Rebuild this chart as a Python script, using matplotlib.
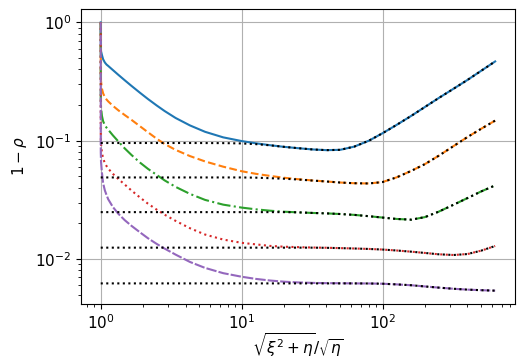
import matplotlib
matplotlib.use("Agg")
import matplotlib.pyplot as plt

plt.rcParams["font.size"] = 11

# shared x grid for the five coloured curves
x = [1.0, 1.0002, 1.001, 1.005, 1.02, 1.04, 1.07, 1.1, 1.13, 1.22, 1.33, 1.48, 1.65, 1.9,
     2.16, 2.5, 2.84, 3.4, 4.3, 5.5, 7.4, 10, 12.6, 15.9, 20, 25, 32, 40, 50, 63, 80, 100,
     126, 160, 200, 250, 320, 400, 500, 630]

blue = [1.0, 0.7, 0.63, 0.57, 0.53, 0.488, 0.458, 0.44, 0.4285, 0.3954, 0.3614, 0.3243,
        0.2911, 0.2541, 0.2254, 0.1982, 0.1782, 0.1556, 0.1346, 0.1189, 0.1067, 0.0993,
        0.0951, 0.0916, 0.0887, 0.0865, 0.0843, 0.0832, 0.0837, 0.0891, 0.1, 0.1156,
        0.1361, 0.1622, 0.1928, 0.2291, 0.2754, 0.3258, 0.389, 0.4677]
orange = [1.0, 0.4467, 0.3631, 0.3162, 0.2754, 0.2512, 0.2333, 0.2228, 0.2148, 0.1972,
          0.1811, 0.1648, 0.1503, 0.1324, 0.118, 0.1038, 0.0938, 0.0836, 0.0741, 0.0668,
          0.0603, 0.0552, 0.0525, 0.0504, 0.0486, 0.0473, 0.0461, 0.0452, 0.0443, 0.0437,
          0.0435, 0.0447, 0.049, 0.0556, 0.0634, 0.0745, 0.0902, 0.1072, 0.1259, 0.1479]
green = [1.0, 0.2512, 0.2188, 0.1905, 0.1622, 0.1462, 0.1349, 0.1288, 0.1239, 0.1109,
         0.0989, 0.0861, 0.0759, 0.0653, 0.0579, 0.0513, 0.0462, 0.0407, 0.0355, 0.0316,
         0.0288, 0.0272, 0.0263, 0.0256, 0.0251, 0.0248, 0.0245, 0.0243, 0.024, 0.0236,
         0.023, 0.0224, 0.0218, 0.0215, 0.0226, 0.0251, 0.0288, 0.0327, 0.0372, 0.0419]
red = [1.0, 0.1259, 0.1072, 0.0933, 0.0794, 0.0708, 0.0646, 0.061, 0.0581, 0.0525,
       0.0476, 0.0426, 0.038, 0.0331, 0.0294, 0.0261, 0.0237, 0.021, 0.0182, 0.0161,
       0.0146, 0.0137, 0.0133, 0.0129, 0.0127, 0.0126, 0.0125, 0.01245, 0.01236, 0.01227,
       0.01216, 0.01202, 0.0118, 0.01153, 0.01125, 0.01096, 0.01081, 0.01101, 0.01175, 0.01288]
purple = [1.0, 0.1, 0.0794, 0.0661, 0.0537, 0.0437, 0.038, 0.0347, 0.032, 0.0275,
          0.0242, 0.0213, 0.0191, 0.0168, 0.015, 0.0134, 0.01225, 0.01089, 0.00944, 0.00841,
          0.00759, 0.00708, 0.00679, 0.00658, 0.00643, 0.00634, 0.00628, 0.00625, 0.00624,
          0.00622, 0.00621, 0.00618, 0.0061, 0.006, 0.00586, 0.00573, 0.0056, 0.00551,
          0.00545, 0.0054]

# black dotted approximations
xa = [1, 2, 4.3, 7.4, 10, 12.6, 15.9, 20, 25, 32, 40, 50, 63, 80, 100, 126, 160, 200,
      250, 320, 400, 500, 630]
blue_a = [0.0956, 0.0956, 0.0956, 0.0954, 0.0948, 0.0935, 0.0914, 0.0887, 0.0865, 0.0843,
          0.0832, 0.0837, 0.0891, 0.1, 0.1156, 0.1361, 0.1622, 0.1928, 0.2291, 0.2754,
          0.3258, 0.389, 0.4677]
orange_a = [0.0489, 0.0489, 0.0489, 0.0489, 0.0489, 0.0487, 0.0482, 0.0477, 0.047, 0.046,
            0.0452, 0.0443, 0.0437, 0.0435, 0.0447, 0.049, 0.0556, 0.0634, 0.0745, 0.0902,
            0.1072, 0.1259, 0.1479]
green_a = [0.0249, 0.0249, 0.0249, 0.0249, 0.0249, 0.0249, 0.0249, 0.0249, 0.0248, 0.0245,
           0.0243, 0.024, 0.0236, 0.023, 0.0224, 0.0218, 0.0215, 0.0226, 0.0251, 0.0288,
           0.0327, 0.0372, 0.0419]
red_a = [0.01247, 0.01247, 0.01247, 0.01247, 0.01247, 0.01247, 0.01247, 0.01247, 0.01247,
         0.01247, 0.01243, 0.01236, 0.01227, 0.01216, 0.01202, 0.0118, 0.01153, 0.01125,
         0.01096, 0.01081, 0.01101, 0.01175, 0.01288]
purple_a = [0.00622, 0.00622, 0.00622, 0.00622, 0.00622, 0.00622, 0.00622, 0.00622,
            0.00622, 0.00622, 0.00622, 0.00622, 0.00622, 0.00621, 0.00618, 0.0061, 0.006,
            0.00586, 0.00573, 0.0056, 0.00551, 0.00545, 0.0054]

fig = plt.figure(figsize=(5.27, 3.59), dpi=100)
ax = fig.add_axes([0.1537, 0.153, 0.8233, 0.822])

ax.plot(x, blue, color="C0", ls="-", lw=1.5)
ax.plot(x, orange, color="C1", ls="--", lw=1.5)
ax.plot(x, green, color="C2", ls="-.", lw=1.5)
ax.plot(x, red, color="C3", ls=":", lw=1.5)
ax.plot(x, purple, color="C4", ls=(0, (5, 1)), lw=1.5)

for ya in (blue_a, orange_a, green_a, red_a, purple_a):
    ax.plot(xa, ya, color="black", ls=":", lw=1.5)

ax.set_xscale("log")
ax.set_yscale("log")
ax.grid(True, which="major")
ax.set_xlabel(r"$\sqrt{\xi^2+\eta}/\sqrt{\eta}$", labelpad=-1)
ax.set_ylabel(r"$1-\rho$")

fig.savefig("out.png", dpi=100)
